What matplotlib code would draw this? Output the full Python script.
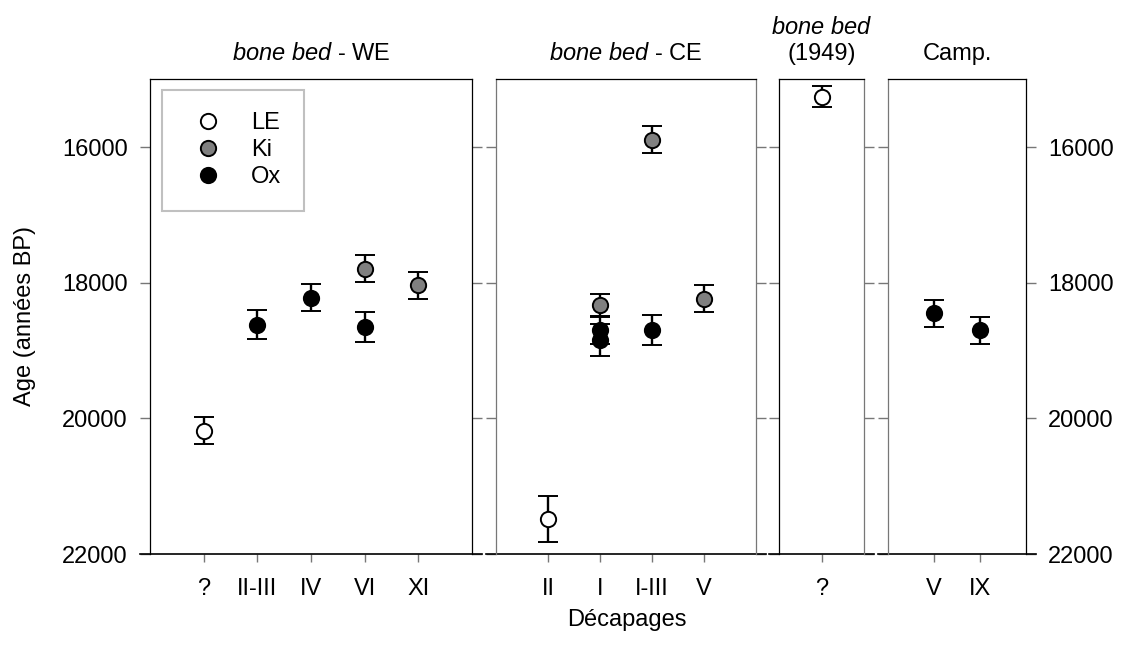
import numpy as np
import matplotlib.pyplot as plt
from matplotlib.lines import Line2D

plt.rcParams['font.family'] = ['Liberation Sans', 'DejaVu Sans']
plt.rcParams['mathtext.fontset'] = 'custom'
plt.rcParams['mathtext.rm'] = 'Liberation Sans'
plt.rcParams['mathtext.it'] = 'Liberation Sans:italic'
plt.rcParams['font.size'] = 17

# bone bed - WE
we_cats = ['?', 'II-III', 'IV', 'VI', 'XI']
we_cat = ['?', 'II-III', 'IV', 'VI', 'VI', 'XI']
we_method = ['LE', 'Ox', 'Ox', 'Ki', 'Ox', 'Ki']
we_age = [20180, 18620, 18220, 17790, 18655, 18035]
we_err = [200, 215, 200, 200, 220, 200]

# bone bed - CE
ce_cats = ['II', 'I', 'I-III', 'V']
ce_cat = ['II', 'I', 'I', 'I', 'I-III', 'I-III', 'V']
ce_method = ['LE', 'Ki', 'Ox', 'Ox', 'Ki', 'Ox', 'Ki']
ce_age = [21490, 18330, 18700, 18845, 15890, 18700, 18235]
ce_err = [340, 160, 200, 230, 200, 220, 200]

# bone bed (1949)
bb_cats = ['?']
bb_cat = ['?']
bb_method = ['LE']
bb_age = [15255]
bb_err = [150]

# Camp.
cp_cats = ['V', 'IX']
cp_cat = ['V', 'IX']
cp_method = ['Ox', 'Ox']
cp_age = [18450, 18700]
cp_err = [200, 200]

methods = ['LE', 'Ki', 'Ox']
fill = {'LE': 'white', 'Ki': '#808080', 'Ox': 'black'}
yticks = [16000, 18000, 20000, 22000]

titles = [r'$\mathit{bone\ bed}$ - WE', r'$\mathit{bone\ bed}$ - CE',
          r'$\mathit{bone\ bed}$' + '\n(1949)', 'Camp.']
panels = [
    (150, 472, we_cats, we_cat, we_method, we_age, we_err),
    (496, 756, ce_cats, ce_cat, ce_method, ce_age, ce_err),
    (779, 864, bb_cats, bb_cat, bb_method, bb_age, bb_err),
    (888, 1026, cp_cats, cp_cat, cp_method, cp_age, cp_err),
]
# left / right spine colours as in the original
spine_cols = [('black', 'black'), ('#777777', '#777777'),
              ('black', '#777777'), ('#777777', 'black')]

W, H = 1125, 648
top, bot = 79.3, 554
fig = plt.figure(figsize=(W / 100, H / 100), dpi=100)

axes = []
for i, (l, r, cats, cat, meth, age, err) in enumerate(panels):
    ax = fig.add_axes([l / W, 1 - bot / H, (r - l) / W, (bot - top) / H])
    axes.append(ax)
    pos = {c: k + 1 for k, c in enumerate(cats)}
    x = np.array([pos[c] for c in cat])
    age = np.array(age)
    err = np.array(err)
    meth = np.array(meth)
    for m in methods:
        sel = meth == m
        if not sel.any():
            continue
        ax.errorbar(x[sel], age[sel], yerr=err[sel], fmt='o', ms=11,
                    mfc=fill[m], mec='black', mew=1.4, ecolor='black',
                    elinewidth=1.7, capsize=7.2, capthick=1.7, zorder=3)
    ax.set_xlim(0, len(cats) + 1)
    ax.set_ylim(22000, 15000)
    ax.set_xticks(range(1, len(cats) + 1), cats)
    ax.set_yticks(yticks)
    ax.tick_params(axis='x', direction='out', length=6, width=1,
                   color='#777777', pad=11)
    ax.tick_params(axis='y', direction='out', length=7, width=1,
                   color='#777777', left=True, right=True,
                   labelleft=(i == 0), labelright=(i == 3), pad=9)
    ax.spines['left'].set_color(spine_cols[i][0])
    ax.spines['right'].set_color(spine_cols[i][1])
    for s in ['left', 'right', 'top']:
        ax.spines[s].set_linewidth(0.9)
    ax.spines['bottom'].set_visible(False)
    ext = 10 / (r - l)
    ax.add_line(Line2D([-ext, 1 + ext], [0, 0], transform=ax.transAxes,
                       color='black', lw=1.2, clip_on=False))
    ax.set_title(titles[i], pad=14, fontsize=17, linespacing=1.2)

handles = [Line2D([], [], marker='o', ls='none', ms=11, mfc=fill[m],
                  mec='black', mew=1.4) for m in methods]
leg = axes[0].legend(handles, methods, loc='upper left',
                     bbox_to_anchor=(12 / 322, 1 - 10.7 / 474.7),
                     borderaxespad=0, fancybox=False, framealpha=1,
                     edgecolor='#c0c0c0', borderpad=0.95, labelspacing=0.21,
                     handlelength=2.0, handletextpad=0.82, fontsize=17)
leg.get_frame().set_linewidth(1.5)

fig.text(25 / W, 1 - 316.5 / H, 'Age (années BP)', rotation=90,
         ha='center', va='center', fontsize=17)
fig.text(627 / W, 1 - 620 / H, 'Décapages', ha='center', va='center',
         fontsize=17)

fig.savefig('out.png', dpi=100)
